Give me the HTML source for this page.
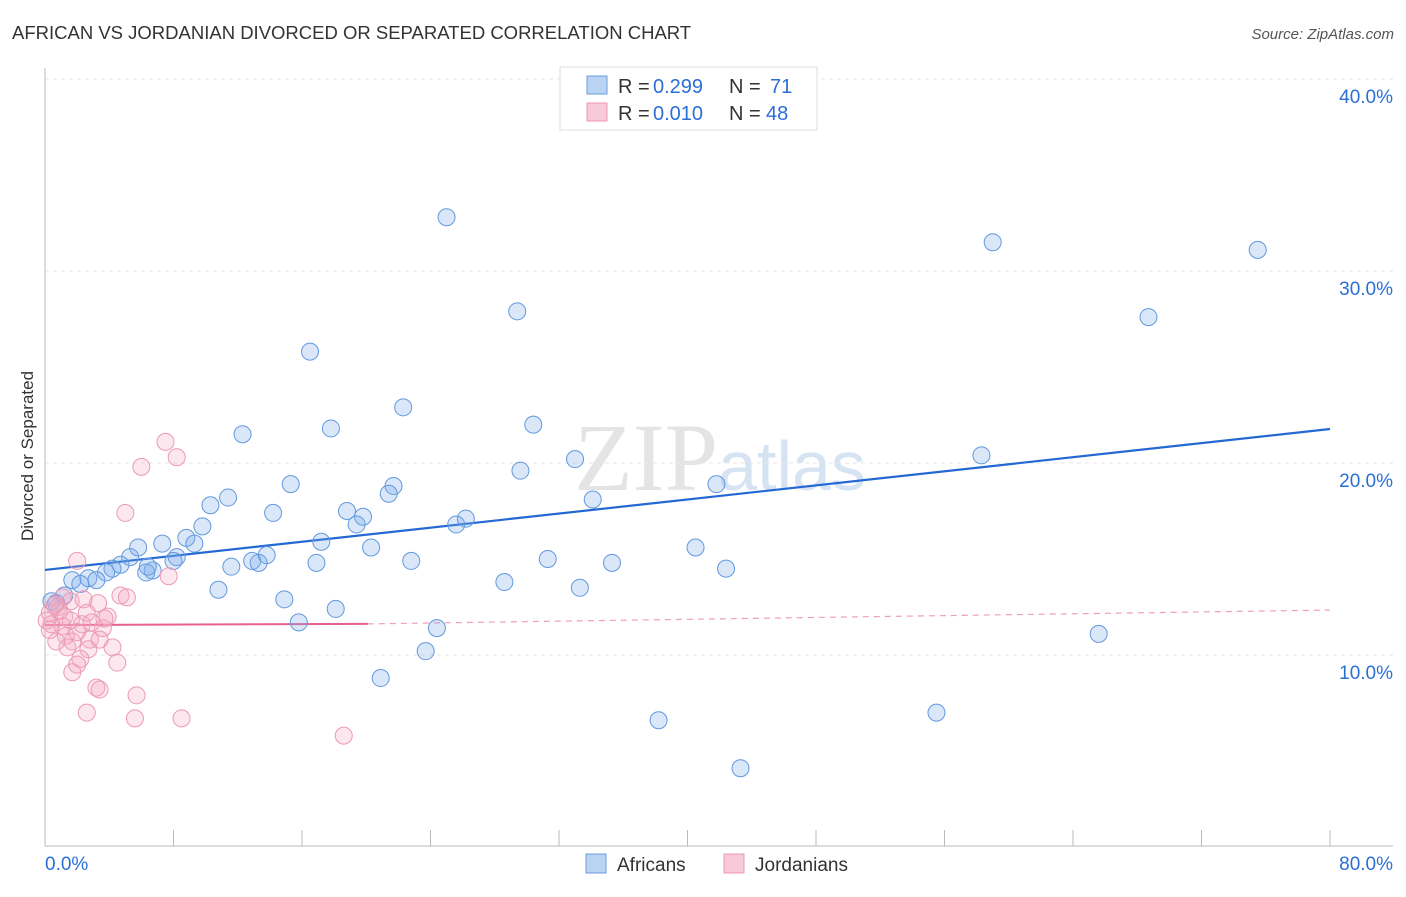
<!DOCTYPE html>
<html><head><meta charset="utf-8"><style>
body{margin:0;background:#fff;font-family:"Liberation Sans",sans-serif}
</style></head><body>
<svg width="1406" height="892" xmlns="http://www.w3.org/2000/svg" font-family="Liberation Sans, sans-serif">
<text x="12" y="39" font-size="18.5" fill="#333">AFRICAN VS JORDANIAN DIVORCED OR SEPARATED CORRELATION CHART</text>
<text x="1394" y="39" font-size="15" fill="#555" text-anchor="end" font-style="italic">Source: ZipAtlas.com</text>
<text x="720" y="490" font-size="96" text-anchor="middle" fill="#e4e4e4" font-family="Liberation Serif, serif">ZIP<tspan fill="#d5e3f3" font-family="Liberation Sans, sans-serif" font-size="70">atlas</tspan></text>
<g id="grid"></g>
<g id="axes"></g>
<text transform="translate(33,456) rotate(-90)" font-size="17" fill="#333" text-anchor="middle">Divorced or Separated</text>
<g id="trend"></g>
<g id="pts"></g>
<g>
<rect x="560" y="67" width="257" height="63" fill="#fff" stroke="#ddd"/>
<rect x="587" y="76" width="20" height="18" fill="#b9d3f3" stroke="#6a9de0"/>
<rect x="587" y="103" width="20" height="18" fill="#f8c9d8" stroke="#eb98b3"/>
<text x="618" y="93" font-size="20" fill="#333">R =</text>
<text x="653" y="93" font-size="20" fill="#2b6fd6">0.299</text>
<text x="729" y="93" font-size="20" fill="#333">N =</text>
<text x="770" y="93" font-size="20" fill="#2b6fd6">71</text>
<text x="618" y="120" font-size="20" fill="#333">R =</text>
<text x="653" y="120" font-size="20" fill="#2b6fd6">0.010</text>
<text x="729" y="120" font-size="20" fill="#333">N =</text>
<text x="766" y="120" font-size="20" fill="#2b6fd6">48</text>
</g>
<g>
<rect x="586" y="854" width="20" height="19" fill="#b9d3f3" stroke="#6a9de0"/>
<text x="617" y="871" font-size="19" fill="#333">Africans</text>
<rect x="724" y="854" width="20" height="19" fill="#f8c9d8" stroke="#eb98b3"/>
<text x="755" y="871" font-size="19" fill="#333">Jordanians</text>
</g>
</svg>
<script>
const yTicks=[10,20,30,40];
const xTickLabels=["0.0%","80.0%"];
const africanX=[25.0,59.0,75.5,29.4,68.7,16.5,22.3,17.8,30.4,12.3,33.0,29.6,58.3,15.3,21.7,21.4,11.4,10.3,34.1,41.8,14.2,18.8,19.8,19.4,26.2,25.6,9.8,8.8,7.3,5.8,17.2,9.3,20.3,5.3,8.2,8.0,40.5,12.9,13.8,13.3,31.3,35.3,16.9,22.8,4.7,4.2,3.8,11.6,6.7,6.3,42.4,6.4,2.7,3.2,1.7,2.2,28.6,33.3,10.8,14.9,18.1,1.2,0.4,0.7,15.8,24.4,65.6,23.7,20.9,55.5,38.2,43.3];
const africanY=[32.8,31.5,31.1,27.9,27.6,25.8,22.9,21.8,22.0,21.5,20.2,19.6,20.4,18.9,18.8,18.4,18.2,17.8,18.1,18.9,17.4,17.5,17.2,16.8,17.1,16.8,16.7,16.1,15.8,15.6,15.9,15.8,15.6,15.1,15.1,14.9,15.6,14.9,15.2,14.8,15.0,14.8,14.8,14.9,14.7,14.5,14.3,14.6,14.4,14.3,14.5,14.6,14.0,13.9,13.9,13.7,13.8,13.5,13.4,12.9,12.4,13.1,12.8,12.7,11.7,11.4,11.1,10.2,8.8,7.0,6.6,4.1];
const jordanX=[7.5,8.2,6.0,5.0,2.0,7.7,4.7,5.1,3.3,1.6,2.6,3.9,1.1,0.8,0.3,0.4,1.1,1.3,1.7,1.4,2.8,0.7,3.6,3.7,2.3,2.7,4.2,4.5,2.2,2.0,1.7,3.2,3.4,5.7,2.6,5.6,8.5,18.6,0.1,0.3,0.9,1.2,2.0,2.9,0.6,1.6,2.4,3.4];
const jordanY=[21.1,20.3,19.8,17.4,14.9,14.1,13.1,13.0,12.7,12.8,12.2,12.0,13.0,12.5,12.2,11.6,11.5,11.0,10.7,10.4,10.8,10.7,11.4,11.9,11.6,10.3,10.4,9.6,9.8,9.5,9.1,8.3,8.2,7.9,7.0,6.7,6.7,5.8,11.8,11.3,12.3,12.0,11.2,11.7,12.6,11.8,12.9,10.8];
const africanTrend=[14.43,21.77];
const jordanTrend=[11.56,11.62,12.34];
const NS="http://www.w3.org/2000/svg";
const X=v=>45+v/80*1285, Y=v=>847-v*19.2;
function mk(t,a,p){const e=document.createElementNS(NS,t);for(const k in a)e.setAttribute(k,a[k]);p.appendChild(e);return e;}
const grid=document.getElementById('grid');
yTicks.forEach(t=>{
 const l=mk('line',{x1:45,x2:1393,y1:Y(t),y2:Y(t),stroke:'#e6e6e6','stroke-dasharray':'4,4'},grid);
 
 
 const tx=mk('text',{x:1393,y:Y(t)+24,'font-size':19,fill:'#2b6fd6','text-anchor':'end'},grid);
 tx.textContent=t.toFixed(1)+'%';
 
 
});
const ax=document.getElementById('axes');
mk('line',{x1:45,x2:45,y1:68,y2:846,stroke:'#bbb'},ax);
mk('line',{x1:45,x2:1393,y1:846,y2:846,stroke:'#bbb'},ax);
for(let i=0;i<=10;i++){const x=X(i*8);mk('line',{x1:x,x2:x,y1:830,y2:846,stroke:'#bbb'},ax);}
const xl0=mk('text',{x:45,y:870,'font-size':19,fill:'#2b6fd6'},ax);xl0.textContent=xTickLabels[0];


const xl1=mk('text',{x:1393,y:870,'font-size':19,fill:'#2b6fd6','text-anchor':'end'},ax);xl1.textContent=xTickLabels[1];


const pts=document.getElementById('pts');
africanX.forEach((v,i)=>{const c=mk('circle',{cx:X(v),cy:Y(africanY[i]),r:8.5,fill:'rgba(120,170,235,0.28)',stroke:'#6399de','stroke-width':1},pts);
 
 });
jordanX.forEach((v,i)=>{const c=mk('circle',{cx:X(v),cy:Y(jordanY[i]),r:8.5,fill:'rgba(246,168,194,0.28)',stroke:'#ec9ab3','stroke-width':1},pts);
 
 });
const tr=document.getElementById('trend');
const t1=mk('line',{x1:X(0),x2:X(80),y1:Y(africanTrend[0]),y2:Y(africanTrend[1]),stroke:'#2368d4','stroke-width':2.2},tr);


const t2=mk('line',{x1:X(0),x2:X(20.1),y1:Y(jordanTrend[0]),y2:Y(jordanTrend[1]),stroke:'#e8608f','stroke-width':2},tr);


const t3=mk('line',{x1:X(20.1),x2:X(80),y1:Y(jordanTrend[1]),y2:Y(jordanTrend[2]),stroke:'#eea0ba','stroke-width':1.2,'stroke-dasharray':'6,5'},tr);


</script>
</body></html>
